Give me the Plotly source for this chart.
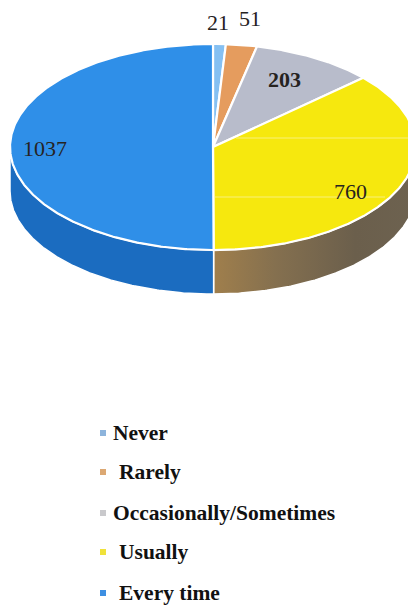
import numpy as np
import plotly.graph_objects as go

categories = ["Never", "Rarely", "Occasionally/Sometimes", "Usually", "Every time"]
values = [21, 51, 203, 760, 1037]
top_colors = ["#85c0f2", "#e59c5e", "#b8bccb", "#f6e80e", "#2f8fe8"]
marker_colors = ["#8db4dc", "#dca873", "#c9c9cc", "#f0e23a", "#3d8fe2"]

# pie geometry in screen pixels
CX, CY, RX, RY, DEPTH = 213, 147, 203, 103, 44


def rim(a0, a1, dy=0.0):
    t = np.radians(np.linspace(a0, a1, max(int(abs(a1 - a0)) * 2, 2)))
    return CX + RX * np.sin(t), CY - RY * np.cos(t) + dy


edges = np.concatenate([[0], np.cumsum(values)]) / sum(values) * 360
fig = go.Figure()

# side walls: only the front half of the rim is visible
for i, (a0, a1) in enumerate(zip(edges[:-1], edges[1:])):
    lo, hi = max(a0, 90), min(a1, 270)
    if lo >= hi:
        continue
    xt, yt = rim(lo, hi)
    xb, yb = rim(hi, lo, DEPTH)
    if categories[i] == "Usually":
        kw = dict(fillgradient=dict(type="horizontal",
                                    colorscale=[[0, "#a07f4c"], [0.3, "#85704f"], [0.7, "#6b5f4c"], [1, "#6d6250"]]))
    else:
        kw = dict(fillcolor="#1b6cc0")
    fig.add_trace(go.Scatter(x=np.r_[xt, xb, xt[0]], y=np.r_[yt, yb, yt[0]], mode="lines",
                             fill="toself", line=dict(color="white", width=1.5),
                             hoverinfo="skip", showlegend=False, **kw))

# top wedges
for i, (a0, a1) in enumerate(zip(edges[:-1], edges[1:])):
    xr, yr = rim(a0, a1)
    fig.add_trace(go.Scatter(x=np.r_[CX, xr, CX], y=np.r_[CY, yr, CY], mode="lines",
                             fill="toself", fillcolor=top_colors[i],
                             line=dict(color="white", width=2.2),
                             name=categories[i], showlegend=False))

# pale scan streaks across the yellow slice
for y0, x0, x1 in [(138, 236, 408), (197, 215, 385)]:
    fig.add_shape(type="line", x0=x0, x1=x1, y0=y0, y1=y0, line=dict(color="#f9f07a", width=1))

# value labels
label_x = [218, 250, 284, 350, 45]
label_y = [22, 18, 79, 191, 148]
label_w = ["normal", "normal", "bold", "normal", "normal"]
for x, y, v, w in zip(label_x, label_y, values, label_w):
    fig.add_annotation(x=x, y=y, text=str(v), showarrow=False,
                       font=dict(family="Liberation Serif", size=22, color="#26231f", weight=w))

# legend
legend_y = [433, 472, 513, 552, 593]
text_x = [111, 117, 111, 117, 117]
fig.add_trace(go.Scatter(x=[103] * 5, y=legend_y, mode="markers",
                         marker=dict(symbol="square", size=6, color=marker_colors),
                         hoverinfo="skip", showlegend=False))
for x, y, c in zip(text_x, legend_y, categories):
    fig.add_annotation(x=x, y=y, text=c, showarrow=False, xanchor="left",
                       font=dict(family="Liberation Serif", size=21.5, color="#111111", weight="bold"))

fig.update_layout(width=408, height=607, margin=dict(l=0, r=0, t=0, b=0),
                  paper_bgcolor="white", plot_bgcolor="white", showlegend=False,
                  xaxis=dict(range=[0, 408], visible=False, fixedrange=True),
                  yaxis=dict(range=[607, 0], visible=False, fixedrange=True))
fig.write_html("out.html", config={"displayModeBar": False},
               post_script="document.body.style.margin='0';document.body.style.overflow='hidden';")
